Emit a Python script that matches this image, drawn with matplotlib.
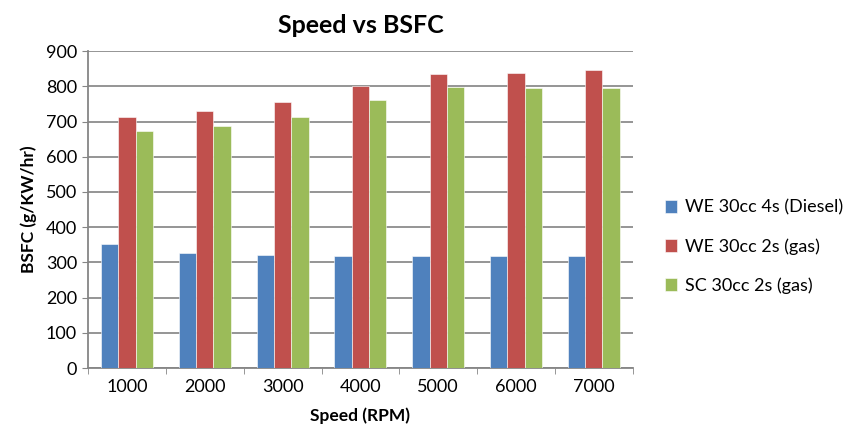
import numpy as np
import matplotlib.pyplot as plt

speeds = ['1000', '2000', '3000', '4000', '5000', '6000', '7000']
we_4s_diesel = [351, 326, 321, 318, 318, 318, 318]
we_2s_gas = [713, 731, 755, 800, 835, 839, 845]
sc_2s_gas = [673, 686, 713, 761, 797, 795, 795]

labels = ['WE 30cc 4s (Diesel)', 'WE 30cc 2s (gas)', 'SC 30cc 2s (gas)']
colors = ['#4f81bd', '#c0504d', '#9bbb59']

plt.rcParams['font.family'] = ['Lato', 'DejaVu Sans']

fig = plt.figure(figsize=(8.48, 4.29), dpi=100)
ax = fig.add_axes([0.104, 0.142, 0.642, 0.739])

x = np.arange(len(speeds))
w = 1 / 4.5
for i, (vals, lab, c) in enumerate(zip([we_4s_diesel, we_2s_gas, sc_2s_gas], labels, colors)):
    ax.bar(x + (i - 1) * w, vals, w, color=c, label=lab, zorder=3,
           edgecolor='white', linewidth=0.4)

ax.set_xlim(-0.5, len(speeds) - 0.5)
ax.set_ylim(0, 900)
ax.set_yticks(np.arange(0, 901, 100))
ax.set_xticks(x)
ax.set_xticklabels(speeds)
ax.set_xticks(np.arange(-0.5, len(speeds), 1), minor=True)
ax.tick_params(axis='x', which='major', length=0, labelsize=13, pad=8)
ax.tick_params(axis='x', which='minor', length=4, color='#868686')
ax.tick_params(axis='y', length=4, color='#868686', labelsize=13, pad=4)
ax.grid(axis='y', color='#8c8c8c', linewidth=1.3, zorder=0)
for s in ['top', 'right']:
    ax.spines[s].set_visible(False)
for s in ['left', 'bottom']:
    ax.spines[s].set_color('#868686')
    ax.spines[s].set_linewidth(1.3)

ax.set_title('Speed vs BSFC', fontsize=18, fontweight='bold', pad=13)
ax.set_xlabel('Speed (RPM)', fontsize=12.5, fontweight='bold', labelpad=9)
ax.set_ylabel('BSFC (g/KW/hr)', fontsize=12.5, fontweight='bold', labelpad=6)

fig.legend(loc='center left', bbox_to_anchor=(0.784, 0.425), frameon=False,
           fontsize=13, handlelength=0.7, handleheight=0.7, handletextpad=0.4,
           labelspacing=1.25, borderaxespad=0, borderpad=0)

fig.savefig('out.png', dpi=100)
